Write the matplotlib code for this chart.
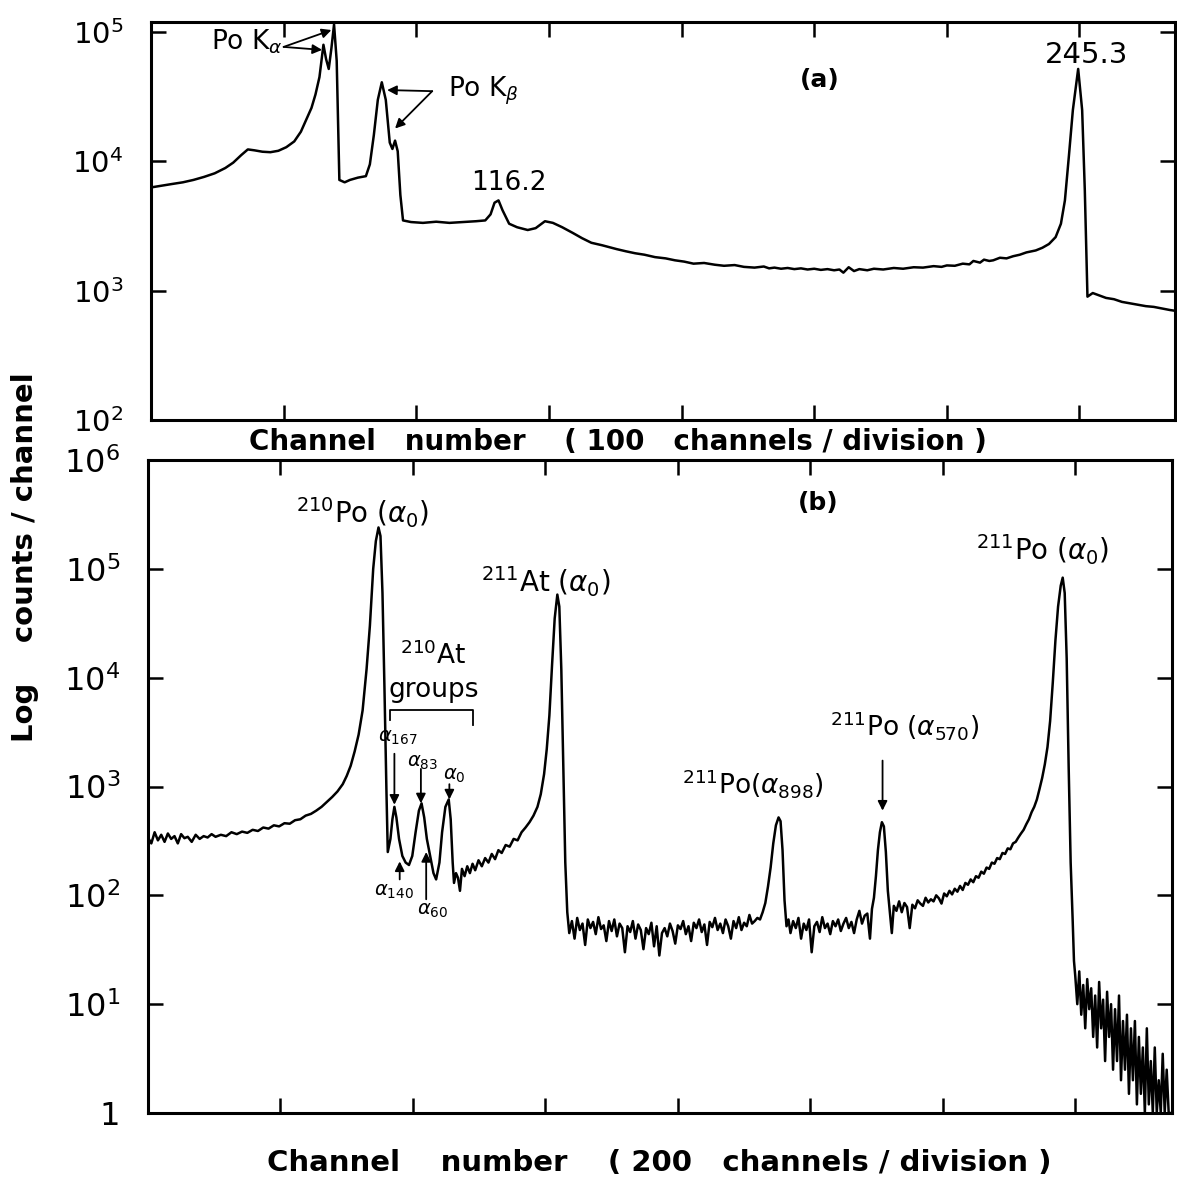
import matplotlib
matplotlib.use("Agg")
import matplotlib.pyplot as plt

plt.rcParams["font.family"] = ["DejaVu Sans"]
plt.rcParams["mathtext.fontset"] = "dejavusans"

# panel (a): channel number (100 channels/division) and counts/channel
chan_a = [0, 8, 16, 24, 32, 40, 48, 56, 62, 68, 73, 78, 84, 90, 96, 102, 108, 113, 117,
          121, 124, 127, 130, 132, 134, 136, 138, 140, 142, 146, 150, 156, 162, 165, 168,
          171, 174, 177, 180, 182, 184, 186, 188, 190, 196, 205, 215, 225, 235, 245, 252,
          256, 259, 262, 265, 270, 276, 284, 290, 297, 303, 310, 318, 325, 332, 340, 351,
          358, 365, 372, 380, 388, 395, 402, 409, 417, 425, 432, 440, 447, 455, 462, 466,
          470, 475, 480, 485, 490, 495, 500, 505, 510, 515, 519, 522, 526, 530, 534, 540,
          545, 552, 560, 567, 575, 582, 590, 596, 600, 606, 612, 617, 620, 625, 628, 632,
          635, 640, 645, 650, 655, 660, 667, 672, 677, 682, 686, 689, 692, 695, 699, 702,
          704, 706, 710, 715, 720, 726, 732, 738, 744, 750, 756, 762, 768, 772]
counts_a = [6300, 6500, 6700, 6900, 7200, 7600, 8100, 8900, 9800, 11200, 12400, 12200,
            11900, 11800, 12100, 12900, 14300, 17000, 21000,
            26000, 33000, 45000, 80000, 62000, 52000, 75000, 115000, 60000, 7200, 6900,
            7200, 7500, 7700, 9500, 16000,
            30000, 41000, 30000, 14000, 12500, 14500, 12000, 5500, 3500, 3400, 3350, 3420,
            3350, 3400, 3450, 3500,
            3900, 4800, 5000, 4200, 3300, 3100, 2950, 3050, 3450, 3350, 3100, 2800, 2550,
            2350, 2250, 2100,
            2020, 1950, 1900, 1820, 1780, 1720, 1680, 1620, 1640, 1590, 1560, 1580, 1530,
            1510, 1540, 1490,
            1510, 1480, 1500, 1470, 1490, 1460, 1480, 1450, 1470, 1440, 1460, 1380, 1520,
            1420, 1470, 1440,
            1480, 1460, 1500, 1480, 1520, 1510, 1550, 1530, 1570, 1560, 1620, 1600, 1700,
            1650, 1740, 1700,
            1720, 1800, 1780, 1850, 1900, 1980, 2050, 2150, 2300, 2600, 3300, 5000, 11000,
            25000, 52000, 25000,
            6000, 900, 960, 920, 880, 860, 820, 800, 780, 760, 750, 730, 710, 700]

# panel (b): channel number (200 channels/division) and counts/channel
chan_b = [0, 5, 10, 15, 20, 25, 30, 35, 40, 45, 50, 55, 60, 66, 72, 78, 84, 90, 96, 102,
          110, 118, 126, 134, 142, 150, 158, 166, 174, 182, 190, 198, 206, 214, 222, 230,
          238, 246, 254, 262, 270, 278, 286, 294, 300, 306, 312, 318, 324, 330, 335, 340,
          344, 348, 351, 354, 357, 360, 362,
          366, 369, 372, 375, 379, 384, 389, 394, 399, 404, 409, 413, 417, 421, 426, 431,
          435, 440, 444, 449, 454, 457, 460, 462, 465, 468, 471, 474, 478, 482, 486, 490,
          494, 499, 504, 509, 514, 519, 524, 529, 534, 540, 546, 552, 558, 564, 570, 576,
          582, 588, 593, 598, 602, 606, 610, 614, 618, 621, 624, 627, 630, 633,
          636, 640, 644, 648, 652, 656, 660, 664, 668, 672, 676, 680, 684, 688, 692, 696,
          700, 704, 708, 712, 716, 720, 724, 728, 732, 736, 740, 744, 748, 752, 756, 760,
          764, 768, 772, 776, 780, 784, 788, 792, 796, 800, 804, 808, 812, 816, 820, 824,
          828, 832, 836, 840, 844, 848, 852, 856, 860, 864, 868, 872, 876, 880, 884, 888,
          892, 896, 900, 904, 908, 912, 916, 920, 924, 928, 932, 936, 940, 944, 948, 952,
          955, 958, 961, 964, 967,
          970, 974, 978, 982, 986, 990, 994, 998, 1002, 1006, 1010, 1014, 1018, 1022, 1026,
          1030, 1034, 1038, 1042, 1046, 1050, 1054, 1058, 1062, 1066, 1070, 1074, 1078, 1082,
          1086, 1090, 1093, 1096, 1099, 1102, 1105, 1108, 1111, 1114, 1117, 1120, 1123,
          1126, 1130, 1134, 1138, 1142, 1146, 1150, 1154, 1158, 1162, 1166, 1170, 1174, 1178,
          1182, 1186, 1190, 1194, 1198, 1202, 1206, 1210, 1214, 1218, 1222, 1226, 1230, 1234,
          1238, 1242, 1246, 1250, 1254, 1258, 1262, 1266, 1270, 1274, 1278, 1282, 1286, 1290,
          1294, 1298, 1302, 1306, 1310, 1314, 1318, 1322, 1326, 1330, 1334, 1338, 1342, 1346,
          1350, 1354, 1358, 1362, 1366, 1370, 1374, 1378, 1381, 1384, 1387, 1390, 1393, 1396,
          1398, 1400, 1403, 1406, 1409, 1412, 1415, 1418, 1421, 1424, 1427, 1430, 1433, 1436,
          1439, 1442, 1445, 1448, 1451, 1454, 1457, 1460, 1463, 1466, 1469, 1472, 1475, 1478,
          1481, 1484, 1487, 1490, 1493, 1496, 1499, 1502, 1505, 1508, 1511, 1514, 1517, 1520,
          1523, 1526, 1529, 1532, 1535, 1538, 1541, 1544]
counts_b = [340, 300, 380, 320, 360, 310, 370, 330, 350, 300, 365, 335, 345, 310, 360, 330,
            350, 340, 365, 345, 360, 350, 380, 365, 385, 375, 400, 390, 420, 410, 440, 430,
            460, 455, 490, 500, 540, 560, 600, 650, 720, 800, 900, 1050, 1250, 1550, 2100,
            3000, 5000, 12000, 30000, 100000, 180000, 240000, 200000, 60000, 8000, 900, 250,
            330, 500, 650, 520, 330, 230, 200, 190, 230, 380, 600, 700, 520, 330, 230, 160,
            140, 200, 380, 650, 760, 500, 200, 130, 160, 145, 110, 175, 150, 185, 160, 195,
            170, 210, 185, 220, 200, 240, 215, 260, 245, 290, 280, 330, 320, 380, 420, 470,
            540, 650, 850, 1300, 2200, 4500, 13000, 35000, 58000, 45000, 12000, 1500, 200, 70,
            45, 58, 40, 62, 48, 55, 35, 60, 50, 57, 44, 63, 49, 53, 38, 58,
            47, 60, 42, 55, 50, 30, 52, 46, 58, 40, 54, 48, 32, 50, 44, 56,
            34, 52, 28, 45, 50, 42, 55, 47, 36, 53, 49, 58, 44, 52, 38, 56,
            50, 60, 46, 54, 35, 57, 51, 62, 48, 55, 45, 60, 52, 40, 58, 50,
            63, 48, 56, 52, 66, 55, 58, 62, 60, 70, 85, 120, 180, 300, 440, 520,
            480, 260, 90, 52, 60,
            45, 58, 50, 62, 40, 55, 48, 60, 30, 52, 57, 46, 63, 50, 55,
            44, 58, 52, 60, 47, 55, 62, 50, 57, 45, 60, 72, 55, 65,
            68, 40, 75, 95, 150, 260, 380, 470, 430, 250, 110, 70, 45,
            80, 72, 88, 70, 85, 78, 50, 82, 76, 90, 84, 80, 95, 86,
            92, 88, 100, 94, 84, 104, 98, 110, 102, 115, 108, 122, 112, 130,
            125, 140, 132, 150, 145, 165, 158, 180, 175, 200, 195, 220, 215, 245,
            240, 270, 265, 300, 310, 340, 370, 400, 450, 500, 580, 650, 760, 950,
            1200, 1600, 2300, 4000, 9000, 22000, 45000, 70000, 83000, 60000, 15000, 1500, 200, 60,
            25, 18, 10, 20, 8, 15, 6, 17, 9, 14, 5, 12, 4, 16,
            6, 11, 3, 13, 5, 10, 2.5, 9, 3, 12, 2, 7, 2.5, 8,
            1.5, 6, 2, 7, 1.2, 5, 1.5, 4, 1, 6, 1.2, 3, 1, 4,
            1, 2, 1, 3.5, 1, 2.5, 1, 1]

yticks_a = [1e2, 1e3, 1e4, 1e5]
ylabels_a = ["$10^{2}$", "$10^{3}$", "$10^{4}$", "$10^{5}$"]
yticks_b = [1, 1e1, 1e2, 1e3, 1e4, 1e5, 1e6]
ylabels_b = ["1", "$10^{1}$", "$10^{2}$", "$10^{3}$", "$10^{4}$", "$10^{5}$", "$10^{6}$"]
xticks_a = [100, 200, 300, 400, 500, 600, 700]
xticks_b = [200, 400, 600, 800, 1000, 1200, 1400]

W, H = 1177, 1182


def frame(ax, xticks, yticks, ylabels, size):
    ax.set_yscale("log")
    ax.minorticks_off()
    ax.set_xticks(xticks)
    ax.set_yticks(yticks, labels=ylabels)
    ax.tick_params(direction="in", length=11, width=1.8, top=True, right=True,
                   labelbottom=False, labelsize=size, pad=20)
    for s in ax.spines.values():
        s.set_linewidth(2.2)


fig = plt.figure(figsize=(W / 100, H / 100), dpi=100)
ax_a = fig.add_axes([151 / W, 1 - 420 / H, (1175 - 151) / W, (420 - 22) / H])
ax_b = fig.add_axes([148 / W, 1 - 1113 / H, (1172 - 148) / W, (1113 - 460) / H])

arrow = dict(arrowstyle="-|>", color="black", lw=1.3, mutation_scale=14,
             shrinkA=0, shrinkB=0)

# ---- panel (a)
ax_a.plot(chan_a, counts_a, color="black", lw=1.8)
frame(ax_a, xticks_a, yticks_a, ylabels_a, 21)
ax_a.set_xlim(0, 772)
ax_a.set_ylim(100, 1.2e5)

ax_a.text(72, 8.4e4, r"Po K$_\alpha$", fontsize=19, ha="center", va="center")
ax_a.annotate("", xy=(136, 1.04e5), xytext=(100, 7.7e4), arrowprops=arrow)
ax_a.annotate("", xy=(129, 7.3e4), xytext=(100, 7.7e4), arrowprops=arrow)
ax_a.text(251, 3.5e4, r"Po K$_\beta$", fontsize=19, ha="center", va="center")
ax_a.annotate("", xy=(178, 3.57e4), xytext=(212, 3.5e4), arrowprops=arrow)
ax_a.annotate("", xy=(184, 1.8e4), xytext=(212, 3.5e4), arrowprops=arrow)
ax_a.text(270, 6800, "116.2", fontsize=19, ha="center", va="center")
ax_a.text(705, 6.7e4, "245.3", fontsize=21, ha="center", va="center")
ax_a.text(504, 4.3e4, "(a)", fontsize=18, fontweight="bold", ha="center", va="center")

# ---- panel (b)
ax_b.plot(chan_b, counts_b, color="black", lw=1.8)
frame(ax_b, xticks_b, yticks_b, ylabels_b, 23)
ax_b.set_xlim(0, 1546)
ax_b.set_ylim(1, 1e6)

ax_b.text(324, 3.3e5, r"$^{210}$Po ($\alpha_0$)", fontsize=20, ha="center", va="center")
ax_b.text(1012, 4.0e5, "(b)", fontsize=18, fontweight="bold", ha="center", va="center")
ax_b.text(600, 7.6e4, r"$^{211}$At ($\alpha_0$)", fontsize=20, ha="center", va="center")
ax_b.text(1350, 1.5e5, r"$^{211}$Po ($\alpha_0$)", fontsize=20, ha="center", va="center")
ax_b.text(431, 1.6e4, r"$^{210}$At", fontsize=19, ha="center", va="center")
ax_b.text(431, 7700, "groups", fontsize=19, ha="center", va="center")
ax_b.plot([366, 366, 490, 490], [4100, 5000, 5000, 3700], color="black", lw=1.3)

ax_b.text(377, 2800, r"$\alpha_{167}$", fontsize=14, ha="center", va="center")
ax_b.annotate("", xy=(372, 680), xytext=(372, 2000), arrowprops=arrow)
ax_b.text(415, 1650, r"$\alpha_{83}$", fontsize=14, ha="center", va="center")
ax_b.annotate("", xy=(412, 700), xytext=(412, 1450), arrowprops=arrow)
ax_b.text(462, 1250, r"$\alpha_0$", fontsize=14, ha="center", va="center")
ax_b.annotate("", xy=(455, 760), xytext=(455, 1050), arrowprops=arrow)
ax_b.text(371, 108, r"$\alpha_{140}$", fontsize=14, ha="center", va="center")
ax_b.annotate("", xy=(380, 205), xytext=(380, 140), arrowprops=arrow)
ax_b.text(430, 72, r"$\alpha_{60}$", fontsize=14, ha="center", va="center")
ax_b.annotate("", xy=(420, 250), xytext=(420, 92), arrowprops=arrow)

ax_b.text(913, 1070, r"$^{211}$Po($\alpha_{898}$)", fontsize=19, ha="center", va="center")
ax_b.text(1142, 3600, r"$^{211}$Po ($\alpha_{570}$)", fontsize=19, ha="center", va="center")
ax_b.annotate("", xy=(1109, 600), xytext=(1109, 1730), arrowprops=arrow)

# ---- shared labels
fig.text(618 / W, 1 - 442 / H, "Channel   number    ( 100   channels / division )",
         fontsize=20, fontweight="bold", ha="center", va="center")
fig.text(659 / W, 1 - 1163 / H, "Channel    number    ( 200   channels / division )",
         fontsize=21, fontweight="bold", ha="center", va="center")
fig.text(25 / W, 1 - 557 / H, "Log    counts / channel", rotation=90,
         fontsize=21, fontweight="bold", ha="center", va="center")

fig.savefig("out.png", dpi=100, facecolor="white")
